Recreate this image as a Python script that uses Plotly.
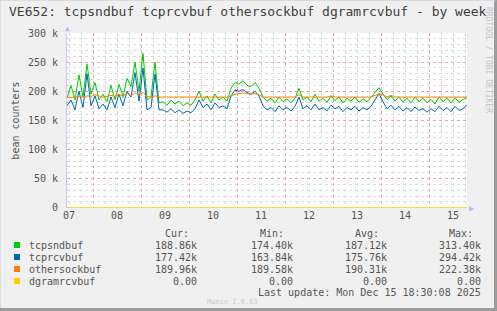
import pandas as pd
import plotly.graph_objects as go

# ---- data (k units), 2-hour samples from 2025-12-07 11:00 ----
start = "2025-12-07 11:00"
n_points = 101
tcpsndbuf = [188, 210, 185, 228, 190, 247, 195, 215, 185, 195,
             182, 210, 185, 212, 190, 222, 208, 250, 200, 265,
             185, 190, 250, 180, 182, 176, 185, 178, 183, 175,
             180, 176, 185, 200, 183, 192, 180, 195, 185, 190,
             183, 205, 215, 212, 218, 210, 208, 215, 205, 190,
             183, 188, 180, 190, 182, 187, 180, 188, 205, 185,
             190, 182, 195, 183, 188, 181, 192, 184, 190, 180,
             188, 183, 190, 181, 187, 182, 190, 198, 206, 195,
             186, 192, 183, 190, 181, 188, 180, 190, 182, 188,
             180, 186, 178, 190, 182, 188, 180, 189, 181, 186,
             189]
tcprcvbuf = [175, 185, 168, 200, 172, 230, 175, 192, 170, 178,
             168, 190, 172, 195, 175, 200, 190, 232, 183, 240,
             168, 172, 230, 168, 168, 164, 170, 163, 168, 162,
             166, 163, 170, 185, 172, 178, 168, 180, 172, 175,
             170, 192, 202, 200, 203, 198, 195, 200, 192, 175,
             168, 172, 165, 175, 168, 172, 166, 174, 190, 170,
             175, 168, 178, 168, 172, 166, 176, 170, 174, 165,
             172, 168, 174, 166, 172, 168, 174, 185, 196, 182,
             170, 176, 168, 174, 166, 172, 165, 173, 167, 170,
             164, 170, 165, 174, 167, 172, 165, 174, 167, 170,
             177]
othersockbuf = [189, 190, 190, 191, 190, 192, 191, 194, 192, 190,
                191, 193, 191, 194, 192, 196, 193, 197, 194, 198,
                191, 190, 192, 190, 190, 190, 190, 190, 190, 190,
                190, 190, 190, 191, 190, 190, 190, 190, 190, 190,
                190, 192, 195, 196, 197, 196, 195, 196, 194, 190,
                190, 190, 190, 190, 190, 190, 190, 190, 194, 190,
                190, 190, 190, 190, 190, 190, 192, 190, 190, 190,
                190, 190, 190, 190, 190, 190, 190, 193, 195, 194,
                190, 193, 190, 190, 190, 190, 190, 190, 190, 190,
                190, 190, 190, 190, 190, 190, 190, 190, 190, 190,
                190]
dgramrcvbuf = [0] * n_points

series_names = ["tcpsndbuf", "tcprcvbuf", "othersockbuf", "dgramrcvbuf"]
series_colors = ["#00CC00", "#0066B3", "#FF8000", "#FFCC00"]
cur_vals = ["188.86k", "177.42k", "189.96k", "0.00"]
min_vals = ["174.40k", "163.84k", "189.58k", "0.00"]
avg_vals = ["187.12k", "175.76k", "190.31k", "0.00"]
max_vals = ["313.40k", "294.42k", "222.38k", "0.00"]

y_tickvals = [0, 50000, 100000, 150000, 200000, 250000, 300000]
y_ticktext = ["0", "50 k", "100 k", "150 k", "200 k", "250 k", "300 k"]
day_labels = ["07", "08", "09", "10", "11", "12", "13", "14", "15"]

times = pd.date_range(start, periods=n_points, freq="2h")
x_range = [pd.Timestamp("2025-12-07 11:00"), pd.Timestamp("2025-12-15 19:00")]
noon_ticks = [pd.Timestamp(f"2025-12-{d} 12:00") for d in day_labels]
midnight_ticks = list(pd.date_range("2025-12-08 00:00", "2025-12-15 00:00", freq="1D"))
sixh_ticks = list(pd.date_range("2025-12-07 12:00", "2025-12-15 18:00", freq="6h"))

FONT = "DejaVu Sans Mono"
TXT = "#555555"

fig = go.Figure()
all_series = [tcpsndbuf, tcprcvbuf, othersockbuf, dgramrcvbuf]
for name, color, vals in zip(series_names, series_colors, all_series):
    fig.add_trace(go.Scatter(
        x=times, y=[v * 1000 for v in vals], mode="lines", name=name,
        line=dict(color=color, width=1), showlegend=False,
        xaxis="x2" if name == "dgramrcvbuf" else "x",
    ))

# geometry helpers (pixel -> paper)
PL, PT, PW, PH = 67, 33, 400, 175
def px(x):
    return (x - PL) / PW
def py(y):
    return (PT + PH - y) / PH

fig.update_layout(
    width=497, height=311,
    margin=dict(l=PL, r=497 - PL - PW, t=PT, b=311 - PT - PH),
    paper_bgcolor="#F0F0F0", plot_bgcolor="#FFFFFF",
    font=dict(family=FONT, size=10, color=TXT),
    xaxis=dict(
        type="date", range=x_range, tickmode="array", tickvals=midnight_ticks,
        showticklabels=False, ticks="", showgrid=True,
        gridcolor="rgba(235,140,140,0.6)", griddash="dot", gridwidth=1,
        minor=dict(tickmode="array", tickvals=sixh_ticks, showgrid=True,
                   gridcolor="#dadada", griddash="dot", gridwidth=1),
        showline=False, zeroline=False,
    ),
    xaxis2=dict(
        type="date", range=x_range, overlaying="x", side="bottom", anchor="y",
        tickmode="array", tickvals=noon_ticks, ticktext=day_labels,
        showgrid=False, ticks="", tickfont=dict(family=FONT, size=10, color=TXT),
        showline=False, zeroline=False,
    ),
    yaxis=dict(
        range=[-500, 300000], tickmode="array", tickvals=y_tickvals, ticktext=y_ticktext,
        showgrid=True, gridcolor="rgba(235,140,140,0.6)", griddash="dot", gridwidth=1,
        minor=dict(dtick=10000, showgrid=True, gridcolor="#dadada", griddash="dot"),
        zeroline=False, showline=True, linecolor="#c8c8f0", linewidth=1,
        ticks="", ticklabelstandoff=6, tickfont=dict(family=FONT, size=10, color=TXT),
        title=dict(text="bean counters", font=dict(family=FONT, size=10, color=TXT),
                   standoff=6),
    ),
)

ann = []
ann.append(dict(text="VE652: tcpsndbuf tcprcvbuf othersockbuf dgramrcvbuf - by week",
                x=px(248), y=py(11), xref="paper", yref="paper", showarrow=False,
                xanchor="center", yanchor="middle",
                font=dict(family=FONT, size=13, color="#404040")))
ann.append(dict(text="RRDTOOL / TOBI OETIKER", x=px(488), y=py(60), xref="paper",
                yref="paper", showarrow=False, textangle=90, xanchor="center",
                yanchor="middle", font=dict(family=FONT, size=8, color="#c4c4c4")))
# headers
for label, xl in zip(["Cur:", "Min:", "Avg:", "Max:"], [163, 258, 353, 447]):
    ann.append(dict(text=label, x=px(xl), y=py(233), xref="paper", yref="paper",
                    showarrow=False, xanchor="left", yanchor="middle",
                    font=dict(family=FONT, size=10, color=TXT)))
rows_y = [245, 257, 269, 281]
shapes = []
for i, name in enumerate(series_names):
    yy = rows_y[i]
    shapes.append(dict(type="rect", xref="paper", yref="paper",
                       x0=px(14), x1=px(20), y0=py(yy - 3), y1=py(yy + 3),
                       fillcolor=series_colors[i], line=dict(width=0)))
    ann.append(dict(text=name, x=px(27), y=py(yy), xref="paper", yref="paper",
                    showarrow=False, xanchor="left", yanchor="middle",
                    font=dict(family=FONT, size=10, color=TXT)))
    for vals, xr in zip([cur_vals, min_vals, avg_vals, max_vals], [199, 295, 389, 483]):
        ann.append(dict(text=vals[i], x=px(xr), y=py(yy), xref="paper", yref="paper",
                        showarrow=False, xanchor="right", yanchor="middle",
                        font=dict(family=FONT, size=10, color=TXT)))
ann.append(dict(text="Last update: Mon Dec 15 18:30:08 2025", x=px(483), y=py(292),
                xref="paper", yref="paper", showarrow=False, xanchor="right",
                yanchor="middle", font=dict(family=FONT, size=10, color=TXT)))
ann.append(dict(text="Munin 2.0.63", x=px(232), y=py(302), xref="paper", yref="paper",
                showarrow=False, xanchor="center", yanchor="middle",
                font=dict(family=FONT, size=7, color="#c8c8c8")))
# axis arrows
ann.append(dict(text="▶", x=px(471), y=py(208), xref="paper", yref="paper",
                showarrow=False, xanchor="center", yanchor="middle",
                font=dict(size=8, color="#b8b8f0")))
ann.append(dict(text="▲", x=px(67), y=py(29), xref="paper", yref="paper",
                showarrow=False, xanchor="center", yanchor="middle",
                font=dict(size=8, color="#b8b8f0")))

# frame (3D border)
shapes.append(dict(type="line", xref="paper", yref="paper", x0=px(0), x1=px(497),
                   y0=py(309.5), y1=py(309.5), line=dict(color="#9c9c9c", width=3)))
shapes.append(dict(type="line", xref="paper", yref="paper", x0=px(495.5), x1=px(495.5),
                   y0=py(0), y1=py(311), line=dict(color="#9c9c9c", width=3)))
shapes.append(dict(type="line", xref="paper", yref="paper", x0=px(0), x1=px(495),
                   y0=py(0.5), y1=py(0.5), line=dict(color="#dcdcdc", width=1)))
shapes.append(dict(type="line", xref="paper", yref="paper", x0=px(0.5), x1=px(0.5),
                   y0=py(0), y1=py(308), line=dict(color="#dcdcdc", width=1)))

fig.update_layout(annotations=ann, shapes=shapes)
fig.write_html("out.html")
